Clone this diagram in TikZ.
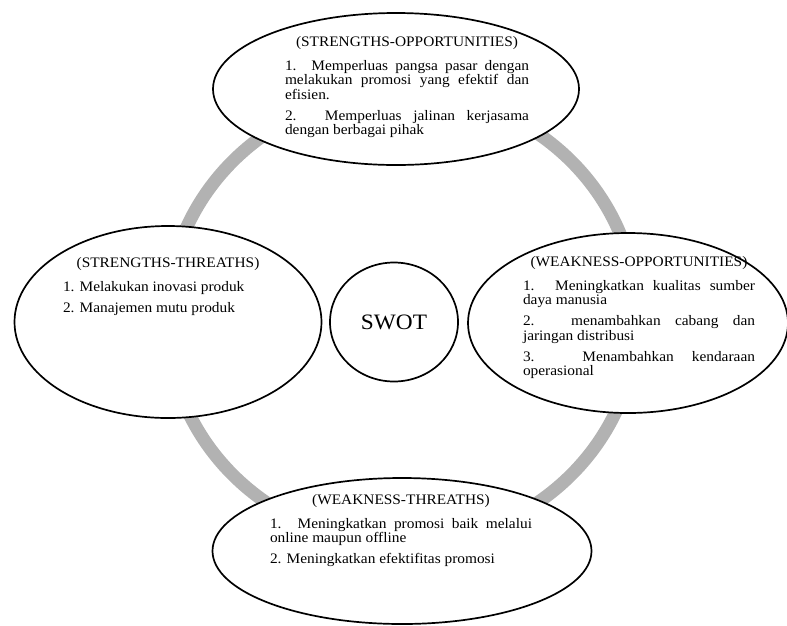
\documentclass[tikz,border=0pt]{standalone}
\usepackage{fontspec}
\setmainfont{Liberation Serif}[FakeStretch=1.06]
\usepackage{tikz}
\usetikzlibrary{shapes.geometric}
\setlength{\parindent}{0pt}

\begin{document}
\begin{tikzpicture}[x=1pt, y=-1pt,
	oval/.style={ellipse, draw=black, line width=1.7pt, fill=white, inner sep=0pt},
	isi/.style={text width=#1, align=justify, inner sep=0pt, anchor=north,
		font=\fontsize{14.5}{14.5}\selectfont}]
				\useasboundingbox (0,0) rectangle (787,625);
				\draw[black!30, line width=13pt] (402,318) ellipse [x radius=235, y radius=226];
				\node[oval, minimum width=366pt, minimum height=152pt] (so) at (396,89) {};
				\node[oval, minimum width=307pt, minimum height=192pt] (st) at (168,322) {};
				\node[oval, minimum width=320pt, minimum height=180pt] (wo) at (628,323) {};
				\node[oval, minimum width=379pt, minimum height=146pt] (wt) at (402,551) {};
				\node[oval, minimum width=128pt, minimum height=119pt,
				font=\fontsize{22}{24}\selectfont] (swot) at (394,322) {SWOT};
				\node[isi=244pt] (so-txt) at (407,36) {\centerline{(STRENGTHS-OPPORTUNITIES)}\par\vspace{9.5pt}
					1. Memperluas pangsa pasar dengan\linebreak melakukan promosi yang efektif dan\linebreak efisien.\par\vspace{6.5pt}
					2. Memperluas jalinan kerjasama\linebreak dengan berbagai pihak};
				\node[isi=210pt] (st-txt) at (168,257) {\centerline{(STRENGTHS-THREATHS)}\par\vspace{9.5pt}
					1. Melakukan inovasi produk\par\vspace{6.5pt}
					2. Manajemen mutu produk};
				\node[isi=232pt] (wo-txt) at (639,256) {\centerline{(WEAKNESS-OPPORTUNITIES)}\par\vspace{9.5pt}
					1. Meningkatkan kualitas sumber\linebreak daya manusia\par\vspace{6.5pt}
					2. menambahkan cabang dan\linebreak jaringan distribusi\par\vspace{6.5pt}
					3. Menambahkan kendaraan\linebreak operasional};
				\node[isi=262pt] (wt-txt) at (401,494) {\centerline{(WEAKNESS-THREATHS)}\par\vspace{9.5pt}
					1. Meningkatkan promosi baik melalui\linebreak online maupun offline\par\vspace{6.5pt}
					2. Meningkatkan efektifitas promosi};
			\end{tikzpicture}
\end{document}
